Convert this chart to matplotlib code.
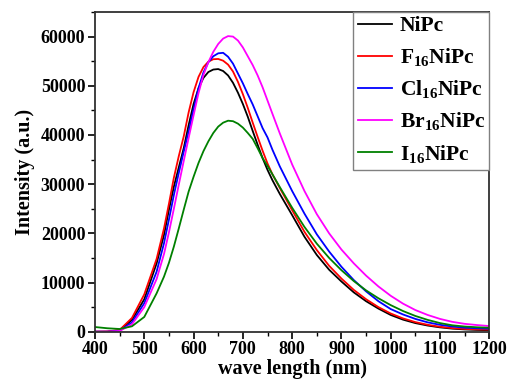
import matplotlib
matplotlib.use("Agg")
import matplotlib.pyplot as plt
from matplotlib.ticker import MultipleLocator

plt.rcParams["font.family"] = ["Liberation Serif", "DejaVu Serif"]
plt.rcParams["font.weight"] = "bold"
plt.rcParams["mathtext.fontset"] = "custom"
plt.rcParams["mathtext.rm"] = "Liberation Serif:bold"
plt.rcParams["mathtext.bf"] = "Liberation Serif:bold"

# wavelength grid (nm) and intensities (denser near the peaks)
wavelength = [400, 425, 450, 475, 500, 525, 540, 550,
              560, 570, 580, 590, 600, 610, 620, 630, 640, 650,
              660, 670, 680, 690, 700, 710, 720, 730, 740, 750, 760,
              775, 800, 825, 850, 875, 900, 925, 950, 975, 1000,
              1025, 1050, 1075, 1100, 1125, 1150, 1175, 1200]

nipc = [0, 0, 300, 2400, 6600, 13900, 19700, 24800,
        29500, 33400, 37300, 42000, 46300, 49500, 51600, 52800, 53300, 53400,
        53000, 52100, 50600, 48600, 46300, 43700, 40800, 38000, 35300, 32900, 30800,
        28000, 23700, 19300, 15600, 12600, 10200, 8000, 6200, 4700, 3400,
        2450, 1750, 1250, 880, 620, 460, 360, 300]
f16nipc = [0, 50, 350, 2800, 7600, 14800, 21000, 26000,
           31300, 35700, 39700, 44600, 48700, 51800, 53800, 54900, 55400, 55450,
           55100, 54300, 52900, 50800, 48300, 45500, 42500, 39600, 36800, 34200, 32000,
           29200, 24700, 20300, 16600, 13400, 10800, 8500, 6600, 5000, 3700,
           2700, 1950, 1400, 1000, 730, 570, 470, 420]
cl16nipc = [0, 0, 200, 1900, 5800, 12200, 18000, 22800,
            27800, 32300, 36600, 40700, 45200, 49500, 52700, 54800, 56000, 56600,
            56700, 55900, 54500, 52500, 50500, 48300, 46200, 43800, 41400, 39500, 37000,
            33600, 28600, 24000, 19800, 16300, 13200, 10500, 8200, 6200, 4600,
            3500, 2600, 1900, 1400, 1050, 820, 700, 620]
br16nipc = [0, 0, 150, 1500, 5000, 10700, 15800, 20200,
            25000, 29900, 34700, 39400, 44000, 48500, 52200, 54800, 56900, 58500,
            59600, 60100, 60000, 59200, 57800, 56000, 54200, 52100, 49700, 47000, 44300,
            40300, 34000, 28600, 23900, 20000, 16700, 13900, 11400, 9200, 7300,
            5700, 4400, 3400, 2600, 2000, 1600, 1350, 1150]
i16nipc = [950, 700, 550, 1100, 3000, 7800, 11200, 14000,
           17300, 21000, 24800, 28500, 31500, 34300, 36700, 38700, 40400, 41700,
           42500, 42900, 42800, 42300, 41500, 40400, 39200, 37300, 35300, 33700, 32000,
           29400, 25200, 21300, 17900, 15000, 12500, 10300, 8400, 6800, 5400,
           4200, 3200, 2400, 1750, 1300, 1050, 900, 800]

labels = ["NiPc", r"F$_{16}$NiPc", r"Cl$_{16}$NiPc", r"Br$_{16}$NiPc", r"I$_{16}$NiPc"]
series = [nipc, f16nipc, cl16nipc, br16nipc, i16nipc]
colors = ["black", "#ff0000", "#0000ff", "#ff00ff", "#008000"]

fig = plt.figure(figsize=(5.08, 3.81), dpi=100)
ax = fig.add_axes([0.187, 0.1294, 0.7762, 0.8391])

for y, lab, c in zip(series, labels, colors):
    ax.plot(wavelength, y, color=c, lw=1.3, label=lab)

ax.set_xlim(400, 1200)
ax.set_ylim(0, 65000)
ax.xaxis.set_major_locator(MultipleLocator(100))
ax.xaxis.set_minor_locator(MultipleLocator(50))
ax.yaxis.set_major_locator(MultipleLocator(10000))
ax.yaxis.set_minor_locator(MultipleLocator(5000))
ax.tick_params(which="major", direction="out", length=5, width=1.2, labelsize=13, pad=2)
ax.tick_params(which="minor", direction="out", length=3, width=1.0)
for s in ax.spines.values():
    s.set_linewidth(1.3)
    s.set_color("#303030")

ax.set_xlabel("wave length (nm)", fontsize=14.5, fontweight="bold", labelpad=0.5)
ax.set_ylabel("Intensity (a.u.)", fontsize=14.5, fontweight="bold", labelpad=4)

leg = ax.legend(loc="upper right", borderaxespad=0, fontsize=15.5, fancybox=False,
                handlelength=1.6, handletextpad=0.35, labelspacing=0.45,
                borderpad=0.2, framealpha=1)
leg.get_frame().set_edgecolor("#808080")
leg.get_frame().set_linewidth(1.0)

fig.savefig("out.png", dpi=100)
